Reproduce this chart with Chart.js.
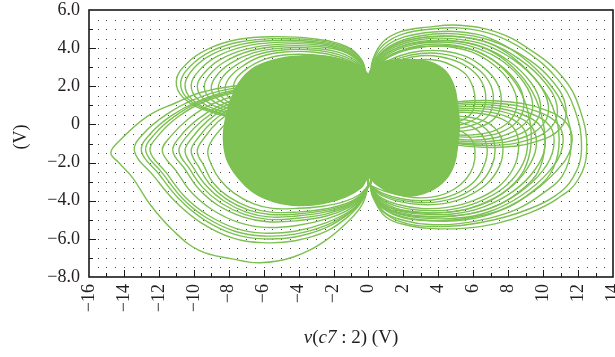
<!DOCTYPE html>
<html>
<head>
<meta charset="utf-8">
<script src="https://cdn.jsdelivr.net/npm/chart.js@4.4.0/dist/chart.umd.min.js"></script>
<style>
html, body { margin: 0; padding: 0; background: #fff; }
#wrap { width: 615px; height: 357px; }
</style>
</head>
<body>
<div id="wrap"><canvas id="attractor"></canvas></div>
<script>
// axis ranges and labels
const xRange = [-16, 14];
const yRange = [-8, 6];
const xTickStep = 2;
const yTickStep = 2;

// dense centre of the attractor (outline)
const coreRegion = [0,2.6, 0.3,3.1, 1.2,3.35, 2.5,3.4, 3.6,3.25, 4.4,2.8, 4.9,2.0, 5.1,1.0, 5.2,0.0, 5.1,-1.1,
  4.9,-2.1, 4.4,-2.9, 3.5,-3.5, 2.4,-3.75, 1.2,-3.55, 0.4,-3.1, 0,-2.8, -0.4,-3.3, -1.3,-3.8, -2.6,-4.15,
  -4.0,-4.25, -5.4,-4.05, -6.6,-3.55, -7.5,-2.75, -8.1,-1.85, -8.3,-0.8, -8.2,0.2, -7.9,1.2, -7.4,2.2,
  -6.5,3.0, -5.1,3.45, -3.6,3.6, -2.2,3.55, -1.0,3.25, -0.3,2.9, 0,2.6];

// big loops round both right lobes
const rightLoops = [
  [0.1,2.5, 0.25,3.4, 0.8,4.3, 1.8,4.85, 3.4,5.1, 5.2,5.2, 7.3,4.85, 9.2,3.95, 11.1,2.5, 12.1,0.8, 12.5,-1.3, 12.0,-2.9, 10.8,-3.9, 9.2,-4.65, 7.3,-5.2, 5.4,-5.45, 3.5,-5.45, 2.3,-5.3, 1.0,-4.85, 0.25,-3.8, 0.1,-3.2],
  [0.1,2.5, 0.3,3.4, 0.9,4.2, 2.0,4.75, 3.6,5.0, 5.3,5.05, 7.2,4.7, 9.0,3.85, 10.8,2.4, 11.8,0.8, 12.2,-1.3, 11.7,-2.8, 10.6,-3.8, 9.0,-4.5, 7.2,-5.0, 5.3,-5.3, 3.5,-5.35, 2.2,-5.2, 1.0,-4.7, 0.25,-3.75, 0.1,-3.2],
  [0.1,2.5, 0.3,3.3, 1.0,4.1, 2.1,4.6, 3.7,4.85, 5.3,4.85, 7.0,4.5, 8.7,3.6, 10.3,2.2, 11.3,0.6, 11.6,-1.2, 11.1,-2.7, 10.0,-3.6, 8.6,-4.4, 7.0,-4.9, 5.2,-5.2, 3.5,-5.25, 2.1,-5.05, 0.9,-4.6, 0.25,-3.7, 0.1,-3.2],
  [0.1,2.5, 0.35,3.2, 1.0,3.9, 2.2,4.4, 3.7,4.6, 5.2,4.6, 6.8,4.3, 8.3,3.5, 9.8,2.1, 10.7,0.5, 10.9,-1.2, 10.4,-2.6, 9.4,-3.5, 8.1,-4.3, 6.6,-4.75, 5.0,-5.0, 3.4,-5.05, 2.0,-4.9, 0.9,-4.45, 0.25,-3.65, 0.1,-3.2],
  [0.1,2.5, 0.4,3.1, 1.1,3.75, 2.3,4.2, 3.7,4.35, 5.1,4.35, 6.5,4.05, 7.9,3.3, 9.2,2.0, 9.9,0.5, 10.1,-1.1, 9.7,-2.5, 8.8,-3.4, 7.6,-4.15, 6.2,-4.6, 4.8,-4.8, 3.3,-4.85, 1.9,-4.7, 0.8,-4.3, 0.25,-3.6, 0.1,-3.2],
  [0.1,2.5, 0.45,3.0, 1.2,3.6, 2.4,4.0, 3.7,4.1, 5.0,4.1, 6.3,3.8, 7.5,3.1, 8.6,1.9, 9.2,0.4, 9.3,-1.1, 8.9,-2.4, 8.1,-3.3, 7.0,-4.0, 5.8,-4.4, 4.5,-4.6, 3.2,-4.65, 1.8,-4.5, 0.8,-4.15, 0.25,-3.55, 0.1,-3.2]
];

// upper right lobe
const upperRightLoops = [
  [0.1,2.5, 0.5,3.5, 1.4,4.2, 3.0,4.65, 5.0,4.75, 7.0,4.4, 9.0,3.5, 10.6,2.2, 11.3,0.9, 11.0,-0.2, 9.6,-0.9, 7.5,-1.2, 5.2,-1.1, 3.0,-0.7, 1.2,0.0, 0.3,1.0, 0.1,2.5],
  [0.1,2.5, 0.52,3.45, 1.45,4.12, 3.0,4.55, 4.9,4.62, 6.8,4.3, 8.6,3.45, 10.1,2.2, 10.8,0.95, 10.5,-0.1, 9.2,-0.8, 7.2,-1.1, 5.1,-1.0, 3.0,-0.6, 1.25,0.05, 0.32,1.05, 0.1,2.5],
  [0.1,2.5, 0.55,3.4, 1.5,4.05, 3.0,4.45, 4.8,4.5, 6.6,4.2, 8.3,3.4, 9.7,2.2, 10.3,1.0, 10.0,0.0, 8.8,-0.7, 7.0,-1.0, 5.0,-0.95, 3.0,-0.55, 1.3,0.1, 0.35,1.1, 0.1,2.5],
  [0.1,2.5, 0.57,3.35, 1.55,3.97, 3.0,4.35, 4.7,4.4, 6.4,4.1, 8.0,3.35, 9.3,2.2, 9.85,1.05, 9.55,0.1, 8.4,-0.6, 6.75,-0.9, 4.9,-0.85, 3.0,-0.48, 1.35,0.15, 0.38,1.15, 0.1,2.5],
  [0.1,2.5, 0.6,3.3, 1.6,3.9, 3.0,4.25, 4.6,4.3, 6.2,4.0, 7.7,3.3, 8.9,2.2, 9.4,1.1, 9.1,0.2, 8.0,-0.5, 6.5,-0.8, 4.8,-0.75, 3.0,-0.4, 1.4,0.2, 0.4,1.2, 0.1,2.5],
  [0.1,2.5, 0.62,3.25, 1.65,3.8, 3.0,4.15, 4.5,4.2, 6.0,3.9, 7.4,3.2, 8.5,2.2, 8.9,1.15, 8.6,0.25, 7.6,-0.4, 6.2,-0.65, 4.6,-0.6, 2.9,-0.3, 1.45,0.3, 0.42,1.25, 0.1,2.5],
  [0.1,2.5, 0.65,3.2, 1.7,3.75, 3.0,4.05, 4.4,4.1, 5.9,3.8, 7.2,3.1, 8.1,2.2, 8.5,1.2, 8.2,0.3, 7.3,-0.3, 6.0,-0.55, 4.5,-0.5, 2.9,-0.2, 1.5,0.35, 0.45,1.3, 0.1,2.5],
  [0.1,2.5, 0.7,3.1, 1.8,3.6, 3.0,3.85, 4.3,3.85, 5.6,3.55, 6.7,2.9, 7.4,2.1, 7.6,1.2, 7.3,0.4, 6.5,-0.1, 5.4,-0.35, 4.1,-0.3, 2.8,-0.05, 1.5,0.5, 0.5,1.4, 0.1,2.5],
  [0.1,2.5, 0.75,3.05, 1.85,3.5, 3.0,3.72, 4.2,3.7, 5.4,3.4, 6.4,2.8, 7.0,2.05, 7.15,1.2, 6.85,0.45, 6.1,0.0, 5.05,-0.22, 3.85,-0.18, 2.65,0.08, 1.45,0.6, 0.5,1.45, 0.1,2.5],
  [0.1,2.5, 0.8,3.0, 1.9,3.4, 3.0,3.6, 4.1,3.55, 5.2,3.25, 6.1,2.7, 6.6,2.0, 6.7,1.2, 6.4,0.5, 5.7,0.1, 4.7,-0.1, 3.6,-0.05, 2.5,0.2, 1.4,0.7, 0.5,1.5, 0.1,2.5],
  [0.1,2.5, 0.9,2.9, 2.0,3.25, 3.0,3.4, 4.0,3.35, 4.9,3.05, 5.6,2.6, 6.0,1.9, 6.1,1.2, 5.9,0.6, 5.3,0.2, 4.4,0.0, 3.5,0.05, 2.4,0.3, 1.4,0.8, 0.5,1.6, 0.1,2.5]
];

// lower right lobe
const lowerRightLoops = [
  [0.1,-3.2, 0.5,-4.1, 1.5,-4.7, 3.0,-5.0, 5.0,-5.05, 7.0,-4.7, 9.0,-3.8, 10.7,-2.5, 11.6,-1.2, 11.4,0.0, 10.0,0.8, 7.8,1.2, 5.3,1.2, 3.0,0.8, 1.2,0.0, 0.3,-1.3, 0.1,-3.2],
  [0.1,-3.2, 0.52,-4.05, 1.5,-4.62, 3.0,-4.9, 4.95,-4.92, 6.9,-4.58, 8.8,-3.7, 10.35,-2.45, 11.1,-1.2, 10.9,-0.05, 9.6,0.7, 7.5,1.1, 5.1,1.1, 3.0,0.72, 1.25,-0.05, 0.32,-1.32, 0.1,-3.2],
  [0.1,-3.2, 0.55,-4.0, 1.5,-4.55, 3.0,-4.8, 4.9,-4.8, 6.8,-4.45, 8.6,-3.6, 10.0,-2.4, 10.6,-1.2, 10.4,-0.1, 9.2,0.6, 7.3,1.0, 5.0,1.0, 3.0,0.65, 1.3,-0.1, 0.35,-1.35, 0.1,-3.2],
  [0.1,-3.2, 0.57,-3.95, 1.55,-4.48, 3.0,-4.7, 4.8,-4.7, 6.6,-4.32, 8.3,-3.5, 9.55,-2.35, 10.1,-1.2, 9.9,-0.15, 8.8,0.52, 7.05,0.9, 4.9,0.9, 2.95,0.58, 1.3,-0.15, 0.38,-1.38, 0.1,-3.2],
  [0.1,-3.2, 0.6,-3.9, 1.6,-4.4, 3.0,-4.6, 4.7,-4.6, 6.4,-4.2, 8.0,-3.4, 9.1,-2.3, 9.6,-1.2, 9.4,-0.2, 8.4,0.45, 6.8,0.8, 4.8,0.8, 2.9,0.5, 1.3,-0.2, 0.4,-1.4, 0.1,-3.2],
  [0.1,-3.2, 0.62,-3.85, 1.65,-4.3, 3.0,-4.5, 4.6,-4.48, 6.2,-4.1, 7.7,-3.35, 8.7,-2.3, 9.1,-1.2, 8.9,-0.25, 8.0,0.38, 6.5,0.7, 4.6,0.7, 2.85,0.4, 1.3,-0.25, 0.42,-1.45, 0.1,-3.2],
  [0.1,-3.2, 0.65,-3.8, 1.7,-4.2, 3.0,-4.4, 4.5,-4.35, 6.0,-4.0, 7.4,-3.3, 8.3,-2.3, 8.6,-1.2, 8.4,-0.3, 7.6,0.3, 6.2,0.6, 4.5,0.6, 2.8,0.3, 1.3,-0.3, 0.45,-1.5, 0.1,-3.2],
  [0.1,-3.2, 0.7,-3.7, 1.8,-4.05, 3.0,-4.2, 4.3,-4.15, 5.6,-3.8, 6.8,-3.1, 7.5,-2.2, 7.7,-1.3, 7.5,-0.5, 6.8,0.1, 5.6,0.4, 4.2,0.4, 2.7,0.15, 1.4,-0.4, 0.5,-1.6, 0.1,-3.2],
  [0.1,-3.2, 0.75,-3.65, 1.85,-3.97, 3.0,-4.1, 4.2,-4.02, 5.4,-3.68, 6.45,-3.02, 7.05,-2.2, 7.25,-1.35, 7.05,-0.6, 6.4,-0.02, 5.3,0.28, 4.0,0.3, 2.65,0.08, 1.4,-0.45, 0.5,-1.65, 0.1,-3.2],
  [0.1,-3.2, 0.8,-3.6, 1.9,-3.9, 3.0,-4.0, 4.1,-3.9, 5.2,-3.55, 6.1,-2.95, 6.6,-2.2, 6.8,-1.4, 6.6,-0.7, 6.0,-0.15, 5.0,0.15, 3.8,0.2, 2.6,0.0, 1.4,-0.5, 0.5,-1.7, 0.1,-3.2],
  [0.1,-3.2, 0.9,-3.5, 2.0,-3.75, 3.0,-3.85, 4.0,-3.75, 4.9,-3.4, 5.6,-2.85, 6.0,-2.2, 6.1,-1.4, 5.9,-0.8, 5.3,-0.35, 4.4,-0.1, 3.4,-0.05, 2.4,-0.2, 1.4,-0.6, 0.5,-1.8, 0.1,-3.2]
];

// upper left lobe
const upperLeftLoops = [
  [-0.1,2.5, -0.4,3.4, -1.3,4.1, -3.2,4.5, -5.5,4.6, -7.5,4.45, -9.2,3.95, -10.4,3.2, -11.0,2.3, -10.6,1.4, -9.2,0.7, -7.0,0.3, -4.5,0.2, -2.2,0.5, -0.7,1.2, -0.1,2.5],
  [-0.1,2.5, -0.42,3.38, -1.35,4.05, -3.2,4.43, -5.45,4.5, -7.4,4.32, -9.05,3.82, -10.2,3.05, -10.75,2.2, -10.35,1.35, -9.0,0.7, -6.9,0.32, -4.45,0.25, -2.2,0.55, -0.7,1.25, -0.1,2.5],
  [-0.1,2.5, -0.45,3.35, -1.4,4.0, -3.2,4.35, -5.4,4.4, -7.3,4.2, -8.9,3.7, -10.0,2.95, -10.5,2.1, -10.1,1.3, -8.8,0.7, -6.8,0.35, -4.4,0.3, -2.2,0.6, -0.7,1.3, -0.1,2.5],
  [-0.1,2.5, -0.47,3.32, -1.45,3.95, -3.2,4.28, -5.3,4.3, -7.15,4.08, -8.7,3.55, -9.7,2.82, -10.15,2.05, -9.75,1.3, -8.5,0.72, -6.6,0.4, -4.35,0.35, -2.25,0.65, -0.75,1.35, -0.1,2.5],
  [-0.1,2.5, -0.5,3.3, -1.5,3.9, -3.2,4.2, -5.2,4.2, -7.0,3.95, -8.5,3.4, -9.4,2.7, -9.8,2.0, -9.4,1.3, -8.2,0.75, -6.4,0.45, -4.3,0.4, -2.3,0.7, -0.8,1.4, -0.1,2.5],
  [-0.1,2.5, -0.5,3.25, -1.5,3.85, -3.1,4.1, -5.1,4.1, -6.8,3.85, -8.2,3.3, -9.1,2.6, -9.4,1.95, -9.0,1.3, -7.9,0.8, -6.2,0.5, -4.2,0.45, -2.3,0.75, -0.8,1.45, -0.1,2.5],
  [-0.1,2.5, -0.55,3.2, -1.6,3.75, -3.2,4.0, -5.0,4.0, -6.6,3.75, -7.9,3.2, -8.7,2.55, -9.0,1.9, -8.6,1.3, -7.5,0.85, -5.9,0.6, -4.1,0.55, -2.3,0.8, -0.8,1.5, -0.1,2.5],
  [-0.1,2.5, -0.57,3.15, -1.65,3.65, -3.2,3.9, -4.9,3.9, -6.4,3.65, -7.6,3.1, -8.35,2.48, -8.6,1.85, -8.2,1.28, -7.15,0.88, -5.65,0.65, -3.95,0.62, -2.25,0.88, -0.8,1.55, -0.1,2.5],
  [-0.1,2.5, -0.6,3.1, -1.7,3.55, -3.2,3.8, -4.8,3.8, -6.2,3.55, -7.3,3.0, -8.0,2.4, -8.2,1.8, -7.8,1.25, -6.8,0.9, -5.4,0.7, -3.8,0.7, -2.2,0.95, -0.8,1.6, -0.1,2.5],
  [-0.1,2.5, -0.65,3.05, -1.8,3.45, -3.2,3.65, -4.7,3.65, -6.0,3.4, -7.0,2.9, -7.6,2.35, -7.7,1.8, -7.3,1.3, -6.4,0.95, -5.1,0.8, -3.6,0.8, -2.1,1.05, -0.8,1.7, -0.1,2.5]
];

// big loops on the left, out through the lower left lobe
const leftLoops = [
  [0.0,-3.2, -0.3,-4.1, -0.9,-4.85, -2.4,-6.05, -4.3,-6.95, -6.2,-7.25, -7.8,-7.05, -9.7,-6.6, -11.2,-5.55, -12.5,-4.2, -13.5,-2.8, -14.3,-2.0, -14.75,-1.5, -14.3,-0.9, -12.7,0.4, -11.0,1.15, -9.7,1.65, -7.8,2.0, -5.5,2.1, -3.2,1.7, -1.3,0.8, -0.2,-0.8, 0.0,-3.2],
  [0.0,-3.2, -0.35,-4.0, -1.0,-4.7, -2.4,-5.6, -4.2,-6.1, -6.0,-6.2, -7.8,-5.95, -9.6,-5.15, -11.0,-4.1, -12.3,-2.7, -13.4,-1.4, -12.9,-0.5, -11.6,0.5, -10.0,1.3, -8.0,1.85, -5.6,2.0, -3.3,1.6, -1.3,0.7, -0.2,-0.9, 0.0,-3.2],
  [0.0,-3.2, -0.35,-3.95, -1.0,-4.6, -2.4,-5.4, -4.2,-5.9, -6.0,-6.0, -7.7,-5.75, -9.4,-5.0, -10.8,-3.95, -12.0,-2.6, -13.0,-1.4, -12.5,-0.5, -11.3,0.45, -9.8,1.2, -7.9,1.75, -5.6,1.9, -3.3,1.55, -1.3,0.65, -0.2,-0.9, 0.0,-3.2],
  [0.0,-3.2, -0.37,-3.97, -1.0,-4.55, -2.4,-5.28, -4.2,-5.75, -6.0,-5.85, -7.65,-5.6, -9.3,-4.88, -10.65,-3.88, -11.8,-2.55, -12.75,-1.4, -12.25,-0.52, -11.1,0.42, -9.65,1.18, -7.8,1.7, -5.55,1.85, -3.3,1.52, -1.3,0.62, -0.2,-0.9, 0.0,-3.2],
  [0.0,-3.2, -0.4,-3.9, -1.0,-4.5, -2.4,-5.15, -4.2,-5.6, -6.0,-5.7, -7.6,-5.45, -9.2,-4.75, -10.5,-3.8, -11.6,-2.5, -12.5,-1.4, -12.0,-0.55, -10.9,0.4, -9.5,1.15, -7.7,1.65, -5.5,1.8, -3.3,1.5, -1.3,0.6, -0.2,-0.9, 0.0,-3.2],
  [0.0,-3.2, -0.4,-3.9, -1.1,-4.45, -2.4,-4.95, -4.1,-5.3, -5.9,-5.4, -7.4,-5.15, -8.9,-4.5, -10.1,-3.6, -11.0,-2.45, -11.8,-1.4, -11.3,-0.6, -10.3,0.3, -9.0,1.05, -7.4,1.55, -5.4,1.75, -3.3,1.45, -1.3,0.55, -0.2,-0.95, 0.0,-3.2],
  [0.0,-3.2, -0.4,-3.85, -1.1,-4.35, -2.4,-4.8, -4.1,-5.05, -5.8,-5.1, -7.2,-4.85, -8.6,-4.25, -9.7,-3.4, -10.5,-2.35, -11.2,-1.4, -10.8,-0.65, -9.8,0.25, -8.6,0.95, -7.1,1.45, -5.3,1.65, -3.3,1.4, -1.3,0.5, -0.2,-1.0, 0.0,-3.2],
  [0.0,-3.2, -0.42,-3.82, -1.15,-4.3, -2.45,-4.7, -4.1,-4.92, -5.75,-4.98, -7.1,-4.72, -8.45,-4.12, -9.5,-3.3, -10.25,-2.32, -10.85,-1.4, -10.45,-0.68, -9.5,0.22, -8.35,0.92, -6.95,1.4, -5.25,1.6, -3.3,1.35, -1.3,0.48, -0.2,-1.0, 0.0,-3.2],
  [0.0,-3.2, -0.45,-3.8, -1.2,-4.25, -2.5,-4.6, -4.1,-4.8, -5.7,-4.85, -7.0,-4.6, -8.3,-4.0, -9.3,-3.2, -10.0,-2.3, -10.5,-1.4, -10.1,-0.7, -9.2,0.2, -8.1,0.9, -6.8,1.35, -5.2,1.55, -3.3,1.3, -1.3,0.45, -0.2,-1.0, 0.0,-3.2],
  [0.0,-3.2, -0.47,-3.78, -1.25,-4.2, -2.55,-4.52, -4.1,-4.7, -5.65,-4.72, -6.9,-4.48, -8.15,-3.9, -9.1,-3.12, -9.7,-2.25, -10.15,-1.4, -9.75,-0.7, -8.9,0.18, -7.85,0.85, -6.6,1.3, -5.1,1.5, -3.3,1.28, -1.3,0.42, -0.2,-1.0, 0.0,-3.2],
  [0.0,-3.2, -0.5,-3.75, -1.3,-4.15, -2.6,-4.45, -4.1,-4.6, -5.6,-4.6, -6.8,-4.35, -8.0,-3.8, -8.9,-3.05, -9.4,-2.2, -9.8,-1.4, -9.4,-0.7, -8.6,0.15, -7.6,0.8, -6.4,1.25, -5.0,1.45, -3.3,1.25, -1.3,0.4, -0.2,-1.0, 0.0,-3.2],
  [0.0,-3.2, -0.55,-3.7, -1.4,-4.05, -2.7,-4.3, -4.1,-4.4, -5.5,-4.4, -6.6,-4.15, -7.7,-3.6, -8.5,-2.9, -9.0,-2.1, -9.2,-1.4, -8.9,-0.75, -8.1,0.1, -7.2,0.75, -6.1,1.2, -4.8,1.4, -3.3,1.2, -1.3,0.35, -0.2,-1.05, 0.0,-3.2]
];

const lineGreen = '#7cc152';
const labelFont = 'Liberation Serif';

function toPoints(flat) {
  const pts = [];
  for (let i = 0; i < flat.length; i += 2) {
    pts.push({x: flat[i], y: flat[i + 1]});
  }
  return pts;
}

function minus(v) {
  return v < 0 ? '\u2212' + Math.abs(v) : String(v);
}

const datasets = [{
  data: toPoints(coreRegion),
  showLine: true,
  fill: 'shape',
  backgroundColor: lineGreen,
  borderColor: lineGreen,
  borderWidth: 1.5,
  tension: 0.4,
  pointRadius: 0
}];
[rightLoops, upperRightLoops, lowerRightLoops, upperLeftLoops, leftLoops].forEach(group => {
  group.forEach(loop => {
    datasets.push({
      data: toPoints(loop),
      showLine: true,
      fill: false,
      borderColor: lineGreen,
      borderWidth: 1.4,
      tension: 0.4,
      pointRadius: 0
    });
  });
});

// dotted grid, inward ticks, box and axis titles
const framePlugin = {
  id: 'frame',
  beforeDatasetsDraw(chart) {
    const {ctx, scales: {x, y}} = chart;
    ctx.save();
    ctx.fillStyle = '#444';
    for (let xv = xRange[0] + 0.5; xv < xRange[1]; xv += 0.5) {
      for (let yv = yRange[0] + 0.5; yv < yRange[1]; yv += 0.5) {
        ctx.fillRect(Math.round(x.getPixelForValue(xv)), Math.round(y.getPixelForValue(yv)), 1, 1);
      }
    }
    ctx.restore();
  },
  afterDraw(chart) {
    const {ctx, chartArea: a, scales: {x, y}} = chart;
    ctx.save();
    ctx.strokeStyle = '#1a1a1a';
    ctx.lineWidth = 1;
    ctx.beginPath();
    for (let xv = xRange[0] + 1; xv < xRange[1]; xv++) {
      const px = Math.round(x.getPixelForValue(xv)) + 0.5;
      const len = xv % 2 === 0 ? 7 : 4;
      ctx.moveTo(px, a.bottom);
      ctx.lineTo(px, a.bottom - len);
    }
    for (let yv = yRange[0] + 1; yv < yRange[1]; yv++) {
      const py = Math.round(y.getPixelForValue(yv)) + 0.5;
      const len = yv % 2 === 0 ? 7 : 4;
      ctx.moveTo(a.left, py);
      ctx.lineTo(a.left + len, py);
    }
    ctx.stroke();
    ctx.lineWidth = 1.6;
    ctx.strokeRect(a.left, a.top, a.right - a.left, a.bottom - a.top);

    // x axis title with italic parts
    const parts = [['v', true], ['(', false], ['c7', true], [' : 2) (V)', false]];
    ctx.fillStyle = '#231f20';
    ctx.textBaseline = 'middle';
    let total = 0;
    parts.forEach(p => {
      ctx.font = (p[1] ? 'italic ' : '') + '19px "' + labelFont + '"';
      total += ctx.measureText(p[0]).width;
    });
    let tx = (a.left + a.right) / 2 - total / 2;
    parts.forEach(p => {
      ctx.font = (p[1] ? 'italic ' : '') + '19px "' + labelFont + '"';
      ctx.fillText(p[0], tx, 338);
      tx += ctx.measureText(p[0]).width;
    });

    // y axis title
    ctx.translate(21, 137);
    ctx.rotate(-Math.PI / 2);
    ctx.textAlign = 'center';
    ctx.font = '18px "' + labelFont + '"';
    ctx.fillText('(V)', 0, 0);
    ctx.restore();
  }
};

new Chart(document.getElementById('attractor'), {
  type: 'scatter',
  data: {datasets},
  options: {
    responsive: true,
    maintainAspectRatio: false,
    animation: false,
    devicePixelRatio: 1,
    events: [],
    layout: {padding: {top: 10, right: 2, left: 0, bottom: 0}},
    plugins: {legend: {display: false}, tooltip: {enabled: false}},
    scales: {
      x: {
        type: 'linear',
        min: xRange[0],
        max: xRange[1],
        grid: {display: false, drawTicks: false},
        border: {display: false},
        ticks: {
          stepSize: xTickStep,
          autoSkip: false,
          minRotation: 90,
          maxRotation: 90,
          padding: 7,
          color: '#231f20',
          font: {family: labelFont, size: 18},
          callback: v => minus(v)
        },
        afterFit(scale) {
          scale.height = 80;
          scale.paddingLeft = 0;
          scale.paddingRight = 0;
        }
      },
      y: {
        type: 'linear',
        min: yRange[0],
        max: yRange[1],
        grid: {display: false, drawTicks: false},
        border: {display: false},
        ticks: {
          stepSize: yTickStep,
          padding: 9,
          color: '#231f20',
          font: {family: labelFont, size: 18},
          callback: v => v === 0 ? '0' : (v < 0 ? '\u2212' : '') + Math.abs(v).toFixed(1)
        },
        afterFit(scale) {
          scale.width = 89;
          scale.paddingTop = 0;
          scale.paddingBottom = 0;
        }
      }
    }
  },
  plugins: [framePlugin]
});
</script>
</body>
</html>
